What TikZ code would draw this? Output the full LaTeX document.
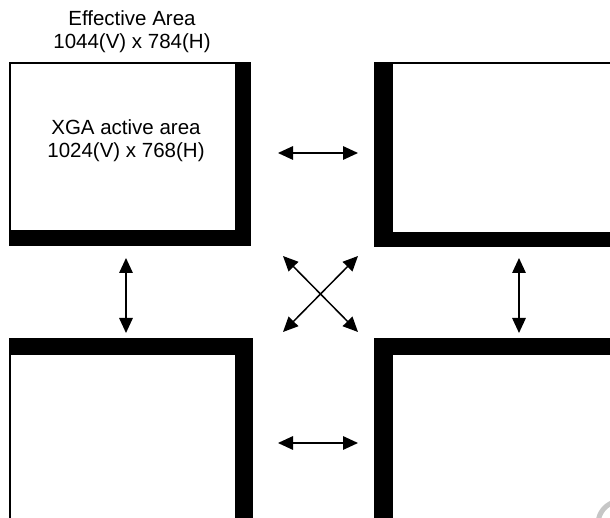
\documentclass[tikz,border=0pt]{standalone}
\usepackage{fontspec}
\setmainfont{Liberation Sans}
\usetikzlibrary{arrows.meta}

\begin{document}
\begin{tikzpicture}[x=1pt,y=-1pt,>={Triangle[length=15pt,width=13.5pt]},
    frame/.style={draw=black,line width=2pt,fill=white},
    bar/.style={fill=black},
    link/.style={<->,line width=1.5pt},
    label/.style={align=center,font=\fontsize{20.5}{23}\selectfont}]
  \useasboundingbox (0,0) rectangle (610,518);
  \begin{scope}
    \clip (0,0) rectangle (610,518);
    % top left panel
    \draw[frame] (10,63) rectangle (250,245);
    \fill[bar] (235,63) rectangle (250,245);
    \fill[bar] (10,230) rectangle (250,245);
    % top right panel
    \draw[frame] (375,63) rectangle (640,246);
    \fill[bar] (375,63) rectangle (393,246);
    \fill[bar] (375,232) rectangle (640,246);
    % bottom left panel
    \draw[frame] (10,339) rectangle (252,560);
    \fill[bar] (10,339) rectangle (252,355);
    \fill[bar] (235,339) rectangle (252,560);
    % bottom right panel
    \draw[frame] (375,339) rectangle (640,560);
    \fill[bar] (375,339) rectangle (393,560);
    \fill[bar] (375,339) rectangle (640,355);
    \draw[gray!45,line width=5pt] (598,524) arc (180:290:23);
  \end{scope}

  \node[label] (eff) at (132,32) {Effective Area\\1044(V) x 784(H)};
  \node[label] (xga) at (126,141) {XGA active area\\1024(V) x 768(H)};

  \coordinate (tl-r) at (278,153);  \coordinate (tr-l) at (358,153);
  \coordinate (bl-r) at (278,443);  \coordinate (br-l) at (358,443);
  \coordinate (tl-b) at (126,258);  \coordinate (bl-t) at (126,333);
  \coordinate (tr-b) at (519,258);  \coordinate (br-t) at (519,333);
  \coordinate (x-tl) at (283,256);  \coordinate (x-br) at (358,332);
  \coordinate (x-tr) at (358,256);  \coordinate (x-bl) at (283,332);

  \draw[link] (tl-r) -- (tr-l);
  \draw[link] (bl-r) -- (br-l);
  \draw[link] (tl-b) -- (bl-t);
  \draw[link] (tr-b) -- (br-t);
  \draw[link] (x-tl) -- (x-br);
  \draw[link] (x-tr) -- (x-bl);
\end{tikzpicture}
\end{document}
